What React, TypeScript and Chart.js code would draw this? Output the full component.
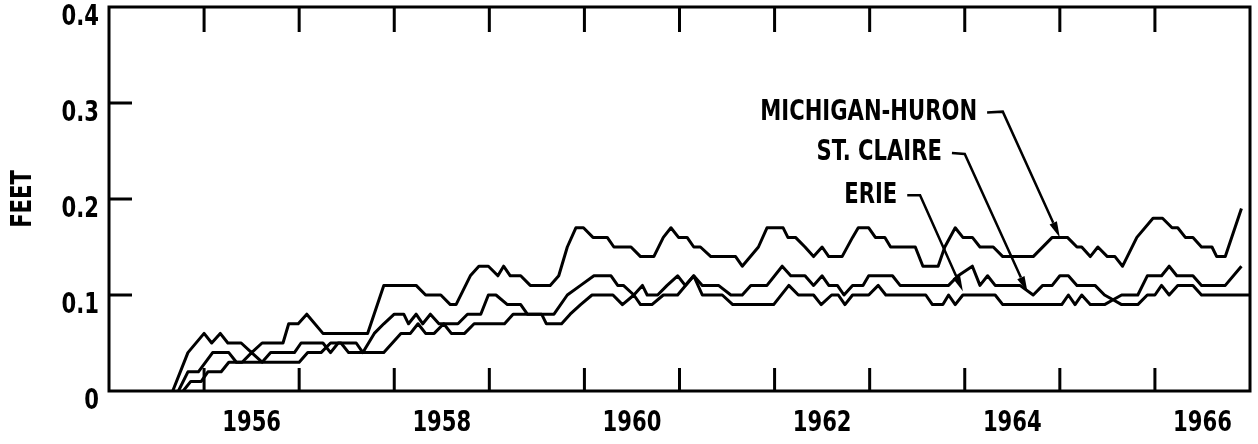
import React, { useEffect, useRef } from "react";
import { Chart, registerables } from "chart.js";

Chart.register(...registerables);

// ---- data (x in decimal years, y in feet) ----
const MH_YEARS = [1955.67, 1955.83, 1956.0, 1956.08, 1956.17, 1956.25, 1956.39, 1956.5, 1956.61, 1956.83, 1956.89, 1956.99, 1957.08, 1957.25, 1957.72, 1957.89, 1958.23, 1958.33, 1958.49, 1958.59, 1958.65, 1958.8, 1958.89, 1958.99, 1959.09, 1959.15, 1959.22, 1959.33, 1959.43, 1959.64, 1959.73, 1959.82, 1959.91, 1959.99, 1960.09, 1960.24, 1960.31, 1960.49, 1960.59, 1960.73, 1960.83, 1960.91, 1960.99, 1961.08, 1961.15, 1961.22, 1961.33, 1961.59, 1961.66, 1961.83, 1961.92, 1962.09, 1962.14, 1962.22, 1962.32, 1962.41, 1962.5, 1962.57, 1962.71, 1962.82, 1962.88, 1962.99, 1963.06, 1963.16, 1963.22, 1963.48, 1963.56, 1963.72, 1963.79, 1963.9, 1963.98, 1964.08, 1964.16, 1964.3, 1964.4, 1964.72, 1964.92, 1965.08, 1965.18, 1965.23, 1965.32, 1965.4, 1965.5, 1965.58, 1965.66, 1965.81, 1965.98, 1966.08, 1966.18, 1966.24, 1966.32, 1966.4, 1966.49, 1966.6, 1966.65, 1966.74, 1966.91];
const MH_FEET = [0, 0.04, 0.06, 0.05, 0.06, 0.05, 0.05, 0.04, 0.05, 0.05, 0.07, 0.07, 0.08, 0.06, 0.06, 0.11, 0.11, 0.1, 0.1, 0.09, 0.09, 0.12, 0.13, 0.13, 0.12, 0.13, 0.12, 0.12, 0.11, 0.11, 0.12, 0.15, 0.17, 0.17, 0.16, 0.16, 0.15, 0.15, 0.14, 0.14, 0.16, 0.17, 0.16, 0.16, 0.15, 0.15, 0.14, 0.14, 0.13, 0.15, 0.17, 0.17, 0.16, 0.16, 0.15, 0.14, 0.15, 0.14, 0.14, 0.16, 0.17, 0.17, 0.16, 0.16, 0.15, 0.15, 0.13, 0.13, 0.15, 0.17, 0.16, 0.16, 0.15, 0.15, 0.14, 0.14, 0.16, 0.16, 0.15, 0.15, 0.14, 0.15, 0.14, 0.14, 0.13, 0.16, 0.18, 0.18, 0.17, 0.17, 0.16, 0.16, 0.15, 0.15, 0.14, 0.14, 0.19];

const SC_YEARS = [1955.73, 1955.83, 1955.94, 1956.09, 1956.26, 1956.34, 1956.4, 1956.5, 1956.61, 1956.7, 1956.95, 1957.02, 1957.25, 1957.33, 1957.41, 1957.6, 1957.67, 1957.79, 1957.89, 1958.0, 1958.1, 1958.15, 1958.23, 1958.3, 1958.38, 1958.47, 1958.67, 1958.77, 1958.91, 1958.99, 1959.07, 1959.19, 1959.33, 1959.4, 1959.68, 1959.82, 1959.96, 1960.1, 1960.28, 1960.35, 1960.41, 1960.52, 1960.61, 1960.66, 1960.77, 1960.87, 1960.98, 1961.06, 1961.15, 1961.24, 1961.41, 1961.54, 1961.66, 1961.75, 1961.92, 1962.08, 1962.17, 1962.32, 1962.41, 1962.5, 1962.57, 1962.66, 1962.73, 1962.82, 1962.93, 1962.99, 1963.24, 1963.32, 1963.83, 1963.93, 1964.08, 1964.16, 1964.24, 1964.32, 1964.58, 1964.72, 1964.82, 1964.92, 1965.0, 1965.09, 1965.18, 1965.37, 1965.47, 1965.56, 1965.65, 1965.82, 1965.92, 1966.07, 1966.15, 1966.23, 1966.4, 1966.49, 1966.74, 1966.91];
const SC_FEET = [0, 0.02, 0.02, 0.04, 0.04, 0.03, 0.03, 0.04, 0.03, 0.04, 0.04, 0.05, 0.05, 0.04, 0.05, 0.05, 0.04, 0.06, 0.07, 0.08, 0.08, 0.07, 0.08, 0.07, 0.08, 0.07, 0.07, 0.08, 0.08, 0.1, 0.1, 0.09, 0.09, 0.08, 0.08, 0.1, 0.11, 0.12, 0.12, 0.11, 0.11, 0.1, 0.11, 0.1, 0.1, 0.11, 0.12, 0.11, 0.12, 0.11, 0.11, 0.1, 0.1, 0.11, 0.11, 0.13, 0.12, 0.12, 0.11, 0.12, 0.11, 0.11, 0.1, 0.11, 0.11, 0.12, 0.12, 0.11, 0.11, 0.12, 0.13, 0.11, 0.12, 0.11, 0.11, 0.1, 0.11, 0.11, 0.12, 0.12, 0.11, 0.11, 0.1, 0.095, 0.1, 0.1, 0.12, 0.12, 0.13, 0.12, 0.12, 0.11, 0.11, 0.13];

const ERIE_YEARS = [1955.78, 1955.86, 1955.97, 1956.04, 1956.18, 1956.26, 1957.0, 1957.09, 1957.23, 1957.33, 1957.44, 1957.52, 1957.89, 1958.07, 1958.17, 1958.25, 1958.33, 1958.42, 1958.52, 1958.6, 1958.74, 1958.84, 1959.16, 1959.25, 1959.55, 1959.6, 1959.76, 1959.85, 1959.96, 1960.08, 1960.3, 1960.4, 1960.52, 1960.59, 1960.71, 1960.83, 1960.98, 1961.15, 1961.24, 1961.45, 1961.56, 1961.99, 1962.15, 1962.25, 1962.41, 1962.49, 1962.6, 1962.67, 1962.74, 1962.82, 1962.99, 1963.09, 1963.17, 1963.59, 1963.66, 1963.77, 1963.83, 1963.9, 1963.98, 1964.32, 1964.4, 1965.02, 1965.09, 1965.16, 1965.23, 1965.32, 1965.47, 1965.56, 1965.65, 1965.82, 1965.92, 1966.0, 1966.07, 1966.15, 1966.24, 1966.4, 1966.49, 1966.99];
const ERIE_FEET = [0, 0.01, 0.01, 0.02, 0.02, 0.03, 0.03, 0.04, 0.04, 0.05, 0.05, 0.04, 0.04, 0.06, 0.06, 0.07, 0.06, 0.06, 0.07, 0.06, 0.06, 0.07, 0.07, 0.08, 0.08, 0.07, 0.07, 0.08, 0.09, 0.1, 0.1, 0.09, 0.1, 0.09, 0.09, 0.1, 0.1, 0.12, 0.1, 0.1, 0.09, 0.09, 0.11, 0.1, 0.1, 0.09, 0.1, 0.1, 0.09, 0.1, 0.1, 0.11, 0.1, 0.1, 0.09, 0.09, 0.1, 0.09, 0.1, 0.1, 0.09, 0.09, 0.1, 0.09, 0.1, 0.09, 0.09, 0.095, 0.09, 0.09, 0.1, 0.1, 0.11, 0.1, 0.11, 0.11, 0.1, 0.1];

const YEAR_TICKS = [1956, 1957, 1958, 1959, 1960, 1961, 1962, 1963, 1964, 1965, 1966];
const YEAR_LABELS = [1956, 1958, 1960, 1962, 1964, 1966];
const FEET_TICKS = [0.1, 0.2, 0.3];

const ANNOTATION_TEXT = ["MICHIGAN-HURON", "ST. CLAIRE", "ERIE"];
const ANNOTATION_TEXT_END = [[1964.13, 0.29], [1963.76, 0.248], [1963.29, 0.204]];
const ANNOTATION_ELBOW = [[1964.4, 0.291], [1964.0, 0.247], [1963.53, 0.204]];
const ANNOTATION_TIP = [[1965.0, 0.16], [1964.66, 0.103], [1963.98, 0.104]];

const FONT = "'DejaVu Sans Condensed', 'DejaVu Sans', sans-serif";
const TEXT_SQUEEZE = 0.81;

const pts = (xs: number[], ys: number[]) => xs.map((x, i) => ({ x, y: ys[i] }));

// draws all canvas text horizontally condensed (the original uses narrow lettering)
const condensePlugin = {
  id: "condense",
  beforeDraw(chart: any) {
    const ctx = chart.ctx;
    if (ctx.__origFill) return;
    const orig = ctx.fillText;
    ctx.__origFill = orig;
    ctx.fillText = function (text: string, x: number, y: number, maxWidth?: number) {
      this.save();
      this.translate(x, y);
      this.scale(TEXT_SQUEEZE, 1);
      if (maxWidth === undefined) orig.call(this, text, 0, 0);
      else orig.call(this, text, 0, 0, maxWidth / TEXT_SQUEEZE);
      this.restore();
    };
  },
  afterDraw(chart: any) {
    const ctx = chart.ctx;
    if (ctx.__origFill) {
      ctx.fillText = ctx.__origFill;
      delete ctx.__origFill;
    }
  },
};

const framePlugin = {
  id: "frameTicks",
  afterDatasetsDraw(chart: any) {
    const { ctx, chartArea: a, scales } = chart;
    const x = scales.x;
    const y = scales.y;
    ctx.save();
    ctx.strokeStyle = "#000";
    ctx.fillStyle = "#000";
    ctx.lineWidth = 3;
    ctx.lineCap = "butt";
    ctx.strokeRect(a.left, a.top, a.right - a.left, a.bottom - a.top);
    ctx.beginPath();
    for (const yr of YEAR_TICKS) {
      const px = x.getPixelForValue(yr);
      ctx.moveTo(px, a.bottom);
      ctx.lineTo(px, a.bottom - 23);
      ctx.moveTo(px, a.top);
      ctx.lineTo(px, a.top + 25);
    }
    for (const v of FEET_TICKS) {
      const py = y.getPixelForValue(v);
      ctx.moveTo(a.left, py);
      ctx.lineTo(a.left + 23, py);
    }
    ctx.stroke();

    ctx.font = "bold 29px " + FONT;
    ctx.textAlign = "right";
    ctx.textBaseline = "middle";
    ctx.lineWidth = 2.5;
    ANNOTATION_TEXT.forEach((t, i) => {
      const tx = x.getPixelForValue(ANNOTATION_TEXT_END[i][0]);
      const ty = y.getPixelForValue(ANNOTATION_TEXT_END[i][1]);
      ctx.fillText(t, tx, ty);
      const ex = x.getPixelForValue(ANNOTATION_ELBOW[i][0]);
      const ey = y.getPixelForValue(ANNOTATION_ELBOW[i][1]);
      const px = x.getPixelForValue(ANNOTATION_TIP[i][0]);
      const py = y.getPixelForValue(ANNOTATION_TIP[i][1]);
      const ang = Math.atan2(py - ey, px - ex);
      const hl = 16, hw = 4;
      const bx = px - hl * Math.cos(ang);
      const by = py - hl * Math.sin(ang);
      ctx.beginPath();
      ctx.moveTo(tx + 10, ty);
      ctx.lineTo(ex, ey);
      ctx.lineTo(bx, by);
      ctx.stroke();
      ctx.beginPath();
      ctx.moveTo(px, py);
      ctx.lineTo(bx + hw * Math.sin(ang), by - hw * Math.cos(ang));
      ctx.lineTo(bx - hw * Math.sin(ang), by + hw * Math.cos(ang));
      ctx.closePath();
      ctx.fill();
    });
    ctx.restore();
  },
};

export default function App() {
  const ref = useRef<HTMLCanvasElement>(null);
  useEffect(() => {
    document.body.style.margin = "0";
    const line = (label: string, xs: number[], ys: number[]) => ({
      label,
      data: pts(xs, ys),
      borderColor: "#000",
      borderWidth: 3,
      pointRadius: 0,
      tension: 0,
      fill: false,
      borderJoinStyle: "round" as const,
    });
    const chart = new Chart(ref.current!, {
      type: "line",
      data: {
        datasets: [
          line("MICHIGAN-HURON", MH_YEARS, MH_FEET),
          line("ST. CLAIRE", SC_YEARS, SC_FEET),
          line("ERIE", ERIE_YEARS, ERIE_FEET),
        ],
      },
      options: {
        animation: false,
        responsive: false,
        layout: { padding: { top: 7, right: 8, left: 0, bottom: 0 } },
        plugins: { legend: { display: false }, tooltip: { enabled: false } },
        scales: {
          x: {
            type: "linear",
            min: 1955,
            max: 1967,
            grid: { display: false, drawTicks: false },
            border: { display: false },
            afterBuildTicks: (s: any) => {
              s.ticks = YEAR_LABELS.map((v) => ({ value: v + 0.5 }));
            },
            afterFit: (s: any) => {
              s.height = 53;
              s.paddingLeft = 0;
              s.paddingRight = 0;
            },
            ticks: {
              autoSkip: false,
              maxRotation: 0,
              padding: 15,
              color: "#000",
              font: { family: FONT, size: 29, weight: "bold" },
              callback: (v: any) => String(Math.floor(Number(v))),
            },
          },
          y: {
            min: 0,
            max: 0.4,
            grid: { display: false, drawTicks: false },
            border: { display: false },
            afterFit: (s: any) => {
              s.width = 109;
              s.paddingTop = 0;
              s.paddingBottom = 0;
            },
            title: {
              display: true,
              text: "FEET",
              color: "#000",
              font: { family: FONT, size: 29, weight: "bold" },
              padding: { top: 6, bottom: 0 },
            },
            ticks: {
              stepSize: 0.1,
              padding: 10,
              labelOffset: 10,
              color: "#000",
              font: { family: FONT, size: 29, weight: "bold" },
              callback: (v: any) => (Number(v) === 0 ? "0" : Number(v).toFixed(1)),
            },
          },
        },
      },
      plugins: [condensePlugin, framePlugin],
    });
    return () => chart.destroy();
  }, []);
  return (
    <div style={{ width: 1258, height: 444 }}>
      <canvas ref={ref} width={1258} height={444} />
    </div>
  );
}
